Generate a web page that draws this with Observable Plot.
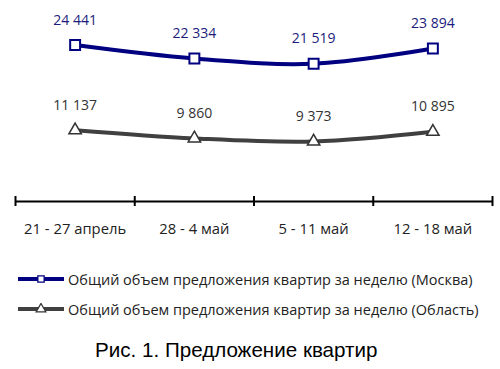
<!DOCTYPE html>
<html><head><meta charset="utf-8">
<script src="https://cdn.jsdelivr.net/npm/d3@7"></script>
<script src="https://cdn.jsdelivr.net/npm/@observablehq/plot@0.6"></script>
<style>
body{margin:0;background:#fff;width:500px;height:369px;overflow:hidden;font-family:"Open Sans",sans-serif}
#legend{position:absolute;left:18px;top:264px;font-size:14.5px;color:#222;white-space:nowrap}
.row{display:flex;align-items:center;height:30px}
.row svg{margin-right:4px}
#cap{position:absolute;left:95px;top:338px;font-family:"Liberation Sans",Arial,sans-serif;font-size:20.6px;color:#000;white-space:nowrap}
</style></head>
<body>
<div id="chart"></div>
<div id="legend"></div>
<div id="cap">Рис. 1. Предложение квартир</div>
<script>
const categories = ["21 - 27 апрель", "28 - 4 май", "5 - 11 май", "12 - 18 май"];
const moscow = [24441, 22334, 21519, 23894];
const oblast = [11137, 9860, 9373, 10895];
const seriesNames = ["Общий объем предложения квартир за неделю (Москва)", "Общий объем предложения квартир за неделю (Область)"];
const seriesColors = ["#000080", "#404040"];
const labelColors = ["#1c1c7c", "#333333"];
const symbols = ["square", "triangle"];

const rows = [];
[moscow, oblast].forEach((vals, s) => vals.forEach((v, i) => rows.push({s, i: i + 0.5, v})));
const fmt = v => d3.format(",")(v).replace(/,/g, " ");
const bounds = d3.range(categories.length + 1);

const chart = Plot.plot({
  width: 500, height: 245,
  marginLeft: 15, marginRight: 8, marginTop: 9, marginBottom: 44,
  x: {domain: [0, categories.length], axis: null},
  y: {domain: [0, 30000], axis: null},
  style: {fontFamily: "Open Sans, sans-serif", fontSize: "14px"},
  marks: [
    Plot.ruleY([0], {stroke: "#000", strokeWidth: 2}),
    Plot.ruleX(bounds, {y1: 0, y2: 0, insetTop: -5, insetBottom: -5, stroke: "#000", strokeWidth: 2}),
    Plot.axisX(categories.map((c, i) => i + 0.5), {tickSize: 0, tickPadding: 22, label: null, tickFormat: d => categories[d - 0.5], fontSize: 14.8, fill: "#222"}),
    ...[0, 1].map(s => Plot.line(rows.filter(d => d.s === s), {x: "i", y: "v", stroke: seriesColors[s], strokeWidth: 4, curve: "catmull-rom"})),
    ...[0, 1].map(s => Plot.dot(rows.filter(d => d.s === s), {x: "i", y: "v", symbol: symbols[s], r: s === 0 ? 5.6 : 4.6, stroke: s === 0 ? seriesColors[0] : "#333", strokeWidth: s === 0 ? 2 : 1.5, fill: "#fff"})),
    ...[0, 1].map(s => Plot.text(rows.filter(d => d.s === s), {x: "i", y: "v", text: d => fmt(d.v), dy: -25, fill: labelColors[s], fontSize: 14}))
  ]
});
document.getElementById("chart").appendChild(chart);

const legend = document.getElementById("legend");
seriesNames.forEach((name, s) => {
  const row = document.createElement("div");
  row.className = "row";
  const sym = d3.symbol(s === 0 ? d3.symbolSquare : d3.symbolTriangle, 40)();
  row.innerHTML = `<svg width="46" height="12"><line x1="0" x2="46" y1="6" y2="6" stroke="${seriesColors[s]}" stroke-width="4"/><path d="${sym}" transform="translate(23,6)" fill="#fff" stroke="${s===0?seriesColors[0]:'#333'}" stroke-width="1.3"/></svg><span>${name}</span>`;
  legend.appendChild(row);
});
</script>
</body></html>
